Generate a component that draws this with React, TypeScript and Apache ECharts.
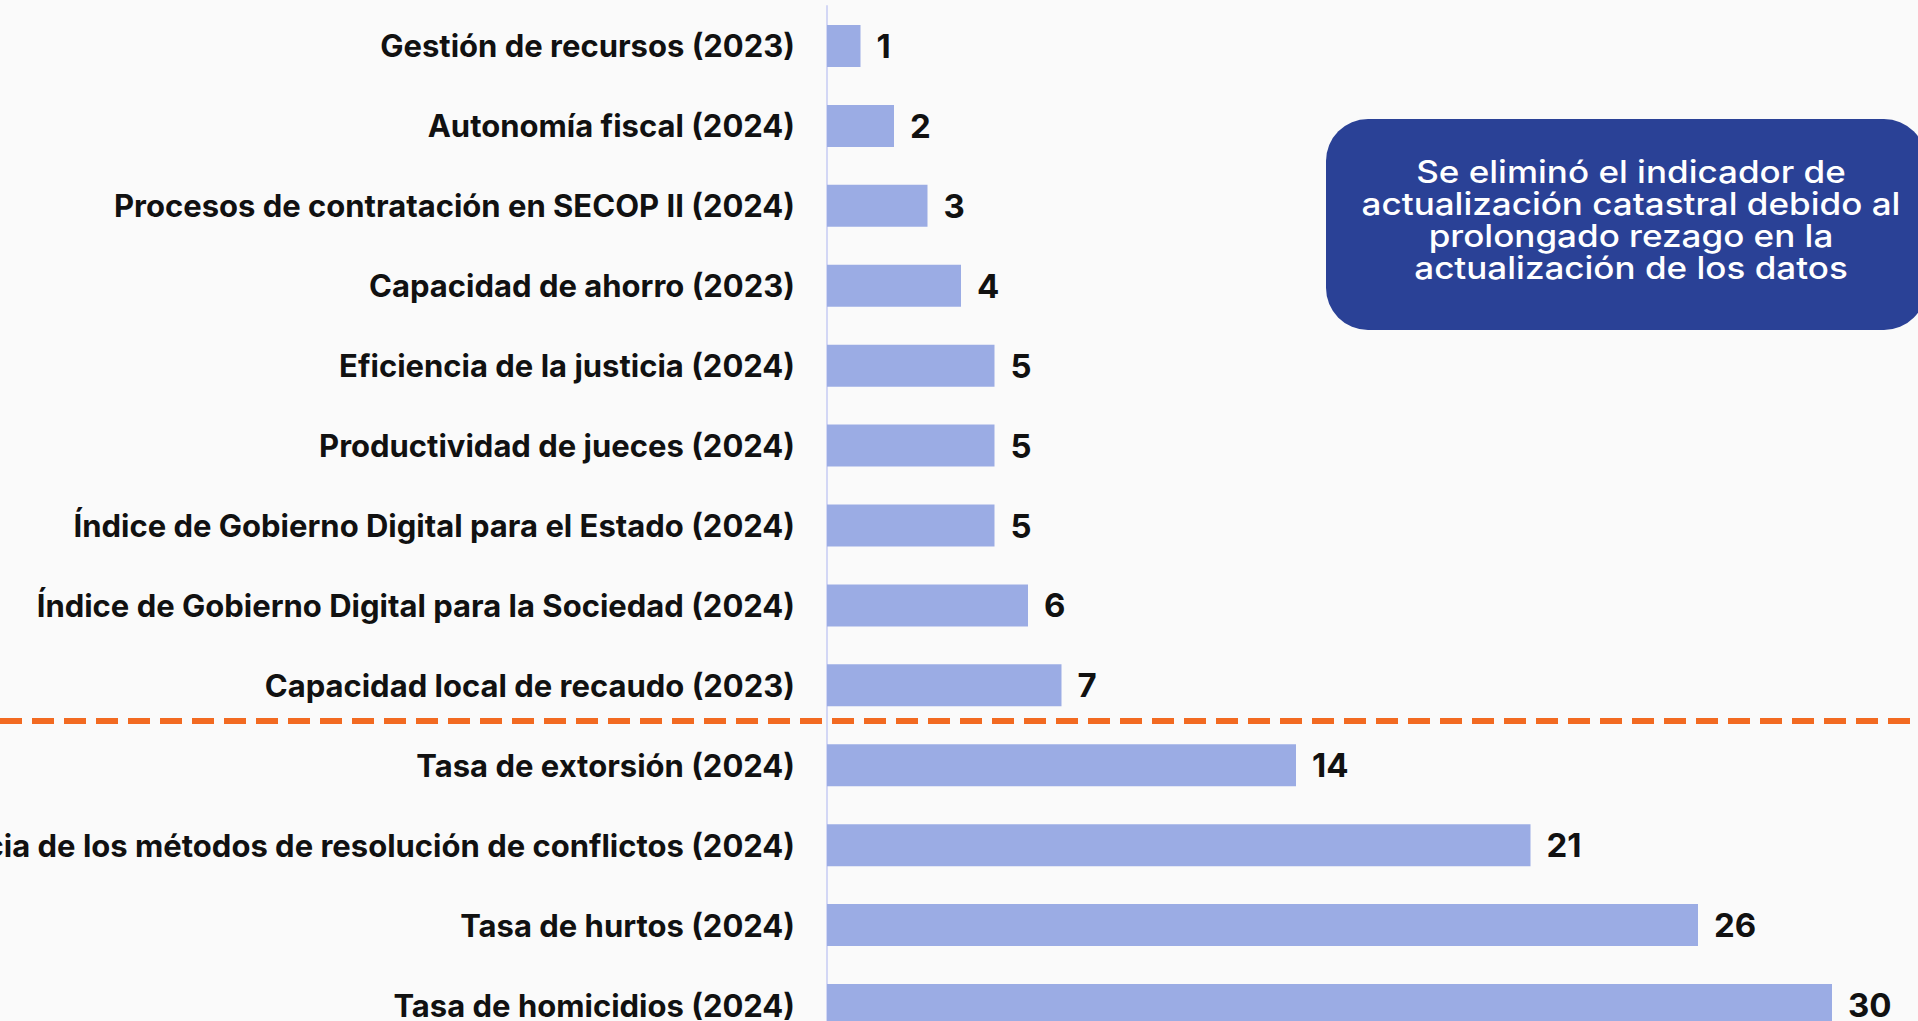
import React, { useEffect, useRef } from "react";
import * as echarts from "echarts";

const categories = [
  "Gestión de recursos (2023)",
  "Autonomía fiscal (2024)",
  "Procesos de contratación en SECOP II (2024)",
  "Capacidad de ahorro (2023)",
  "Eficiencia de la justicia (2024)",
  "Productividad de jueces (2024)",
  "Índice de Gobierno Digital para el Estado (2024)",
  "Índice de Gobierno Digital para la Sociedad (2024)",
  "Capacidad local de recaudo (2023)",
  "Tasa de extorsión (2024)",
  "Eficiencia de los métodos de resolución de conflictos (2024)",
  "Tasa de hurtos (2024)",
  "Tasa de homicidios (2024)",
];

const values = [1, 2, 3, 4, 5, 5, 5, 6, 7, 14, 21, 26, 30];

const noteLines = [
  "Se eliminó el indicador de",
  "actualización catastral debido al",
  "prolongado rezago en la",
  "actualización de los datos",
];

const FONT = "Inter, 'Noto Sans', sans-serif";

export default function App() {
  const ref = useRef<HTMLDivElement>(null);

  useEffect(() => {
    if (!ref.current) return;
    const chart = echarts.init(ref.current, undefined, { renderer: "svg" });
    chart.setOption({
      animation: false,
      backgroundColor: "#FAFAFA",
      grid: {
        left: 827,
        top: 6,
        width: 1005,
        height: 1039,
        containLabel: false,
        outerBoundsMode: "none",
      },
      xAxis: {
        type: "value",
        min: 0,
        max: 30,
        show: false,
      },
      yAxis: {
        type: "category",
        data: categories,
        inverse: true,
        axisLine: { show: true, lineStyle: { color: "#D3D7F5", width: 2 } },
        axisTick: { show: false },
        splitLine: { show: false },
        axisLabel: {
          margin: 32,
          color: "#111111",
          fontFamily: FONT,
          fontWeight: 700,
          fontSize: 31,
        },
      },
      series: [
        {
          type: "bar",
          data: values,
          barWidth: 42,
          itemStyle: { color: "#9BACE4" },
          label: {
            show: true,
            position: "right",
            distance: 16,
            color: "#111111",
            fontFamily: FONT,
            fontWeight: 700,
            fontSize: 33,
          },
        },
      ],
      graphic: [
        {
          type: "line",
          z: 100,
          shape: { x1: 0, y1: 721, x2: 1918, y2: 721 },
          style: { stroke: "#F26A21", lineWidth: 6, lineDash: [22, 10] },
        },
        {
          type: "rect",
          z: 100,
          shape: { x: 1326, y: 119, width: 600, height: 211, r: 42 },
          style: { fill: "#2A4196" },
        },
        {
          type: "text",
          z: 101,
          x: 1631,
          y: 220,
          scaleX: 1.13,
          style: {
            text: noteLines.join("\n"),
            fill: "#FFFFFF",
            font: `500 31px ${FONT}`,
            lineHeight: 32,
            align: "center",
            verticalAlign: "middle",
          },
        },
      ],
    });
    return () => chart.dispose();
  }, []);

  return (
    <div
      ref={ref}
      style={{ position: "fixed", left: 0, top: 0, width: 1918, height: 1021, background: "#FAFAFA" }}
    />
  );
}
